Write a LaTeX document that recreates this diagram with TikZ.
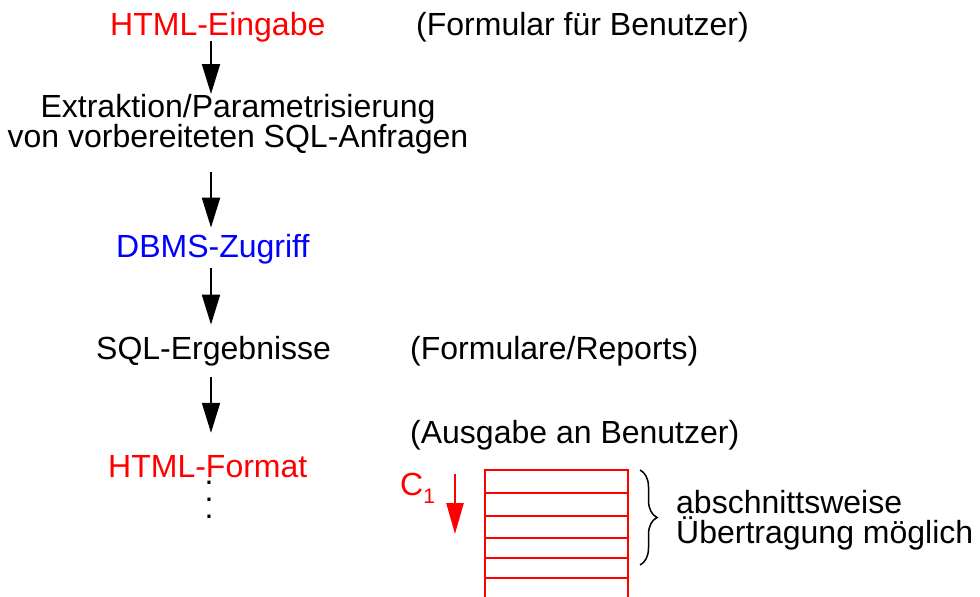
\documentclass[tikz,border=0pt]{standalone}
\usepackage{fontspec}
\setmainfont{Liberation Sans}
\usetikzlibrary{arrows.meta,decorations.pathreplacing}

\begin{document}
\begin{tikzpicture}[x=1pt,y=-1pt,
    every node/.style={inner sep=0pt,font=\fontsize{32}{30}\selectfont},
    flow/.style={line width=2pt,-{Triangle[length=30pt,width=18pt]}},
    rows/.style={red,line width=2.5pt}]
  \useasboundingbox (0,0) rectangle (980,597);
  \coordinate (col) at (211,0);
  % processing chain
  \node[red,anchor=base west] (in) at (110,35) {HTML-Eingabe};
  \node[anchor=base west] (formular) at (416,35) {(Formular für Benutzer)};
  \node[anchor=north,align=center] (extr) at (238,94) {Extraktion/Parametrisierung\\von vorbereiteten SQL-Anfragen};
  \node[blue,anchor=base west] (dbms) at (116,257) {DBMS-Zugriff};
  \node[anchor=base west] (res) at (96,359) {SQL-Ergebnisse};
  \node[anchor=base west] (reports) at (410,359) {(Formulare/Reports)};
  \node[red,anchor=base west] (fmt) at (108,477) {HTML-Format};
  \node[anchor=north,align=center,font=\fontsize{32}{17}\selectfont] (dots) at (209,481) {.\\.\\.};
  \draw[flow,shorten <=-1pt] (in.south -| col) -- (extr.north -| col);
  \draw[flow,shorten <=18pt,shorten >=6pt] (extr.south -| col) -- (dbms.north -| col);
  \draw[flow,shorten <=4pt,shorten >=11pt] (dbms.south -| col) -- (res.north -| col);
  \draw[flow,shorten <=11pt,shorten >=22pt] (res.south -| col) -- (fmt.north -| col);
  % output to the user
  \node[anchor=base west] (ausgabe) at (410,443) {(Ausgabe an Benutzer)};
  \node[red,anchor=base west] (cursor) at (400,495) {C\raisebox{-8pt}{\fontsize{21}{21}\selectfont 1}};
  \coordinate (ctop) at (455,474);
  \coordinate (cend) at (455,534);
  \draw[red,line width=2.5pt,-{Triangle[length=31pt,width=17pt]}] (ctop) -- (cend);
  \draw[rows] (485,597) |- (628,470) -- (628,597);
  \foreach \y in {493,516,538,558,578}
    \draw[rows] (485,\y) -- (628,\y);
  \draw[decorate,decoration={brace,amplitude=17pt},line width=1.5pt] (640,470) -- (640,565);
  \node[anchor=north west,align=left] (note) at (676,490) {abschnittsweise\\Übertragung möglich};
\end{tikzpicture}
\end{document}
